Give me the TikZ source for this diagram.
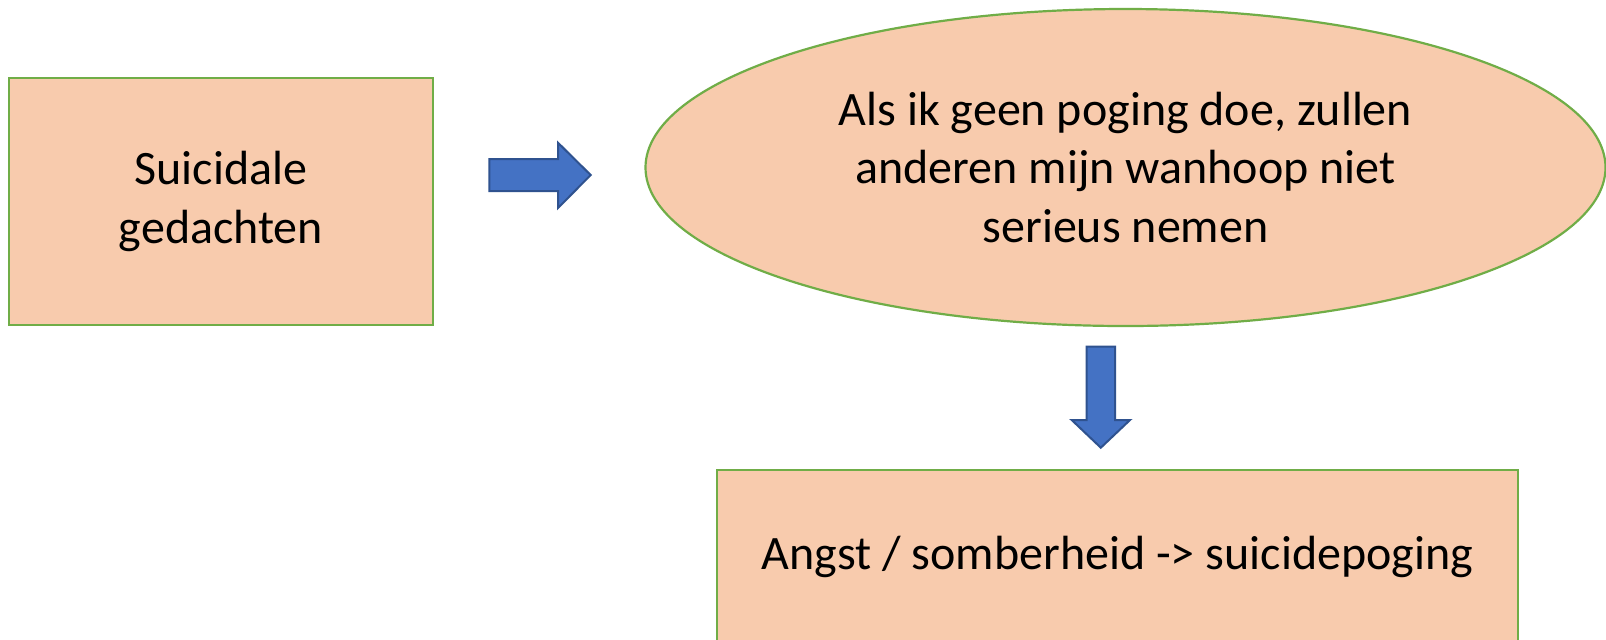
\documentclass[tikz,border=0pt]{standalone}
\usepackage{fontspec}
\setmainfont{Carlito}
\usetikzlibrary{shapes.geometric}
\definecolor{boxfill}{HTML}{F8CBAD}
\definecolor{boxline}{HTML}{70AD47}
\definecolor{arrfill}{HTML}{4472C4}
\definecolor{arrline}{HTML}{2F528F}
\tikzset{
  shapebox/.style={draw=boxline, fill=boxfill, line width=1.1pt, inner sep=0pt,
    align=center, font=\fontsize{24}{29.2}\selectfont},
  blockarrow/.style={draw=arrline, fill=arrfill, line width=1pt, line join=miter}
}
\begin{document}
\begin{tikzpicture}[x=0.5pt,y=-0.5pt]
\useasboundingbox (0,0) rectangle (1606,639);
\clip (0,0) rectangle (1606,639);
\fill[white] (0,0) rectangle (1606,639);
% nodes
\node[shapebox, rectangle, minimum width=212pt, minimum height=123.5pt] (sg) at (221,201.5) {Suicidale\\gedachten};
\node[shapebox, ellipse, minimum width=480pt, minimum height=158.5pt] (als) at (1125.5,167.5) {Als ik geen poging doe, zullen\\anderen mijn wanhoop niet\\serieus nemen};
\node[shapebox, rectangle, minimum width=400.8pt, minimum height=87pt] (angst) at (1117.5,557) {Angst / somberheid -> suicidepoging};
% right block arrow
\draw[blockarrow] (489.3,159) -- (558,159) -- (558,142.7) -- (590.7,175) -- (558,208) -- (558,191) -- (489.3,191) -- cycle;
% down block arrow
\draw[blockarrow] (1086.7,346.7) -- (1115,346.7) -- (1115,420) -- (1130,420) -- (1100.8,447.7) -- (1071.7,420) -- (1086.7,420) -- cycle;
\end{tikzpicture}
\end{document}
